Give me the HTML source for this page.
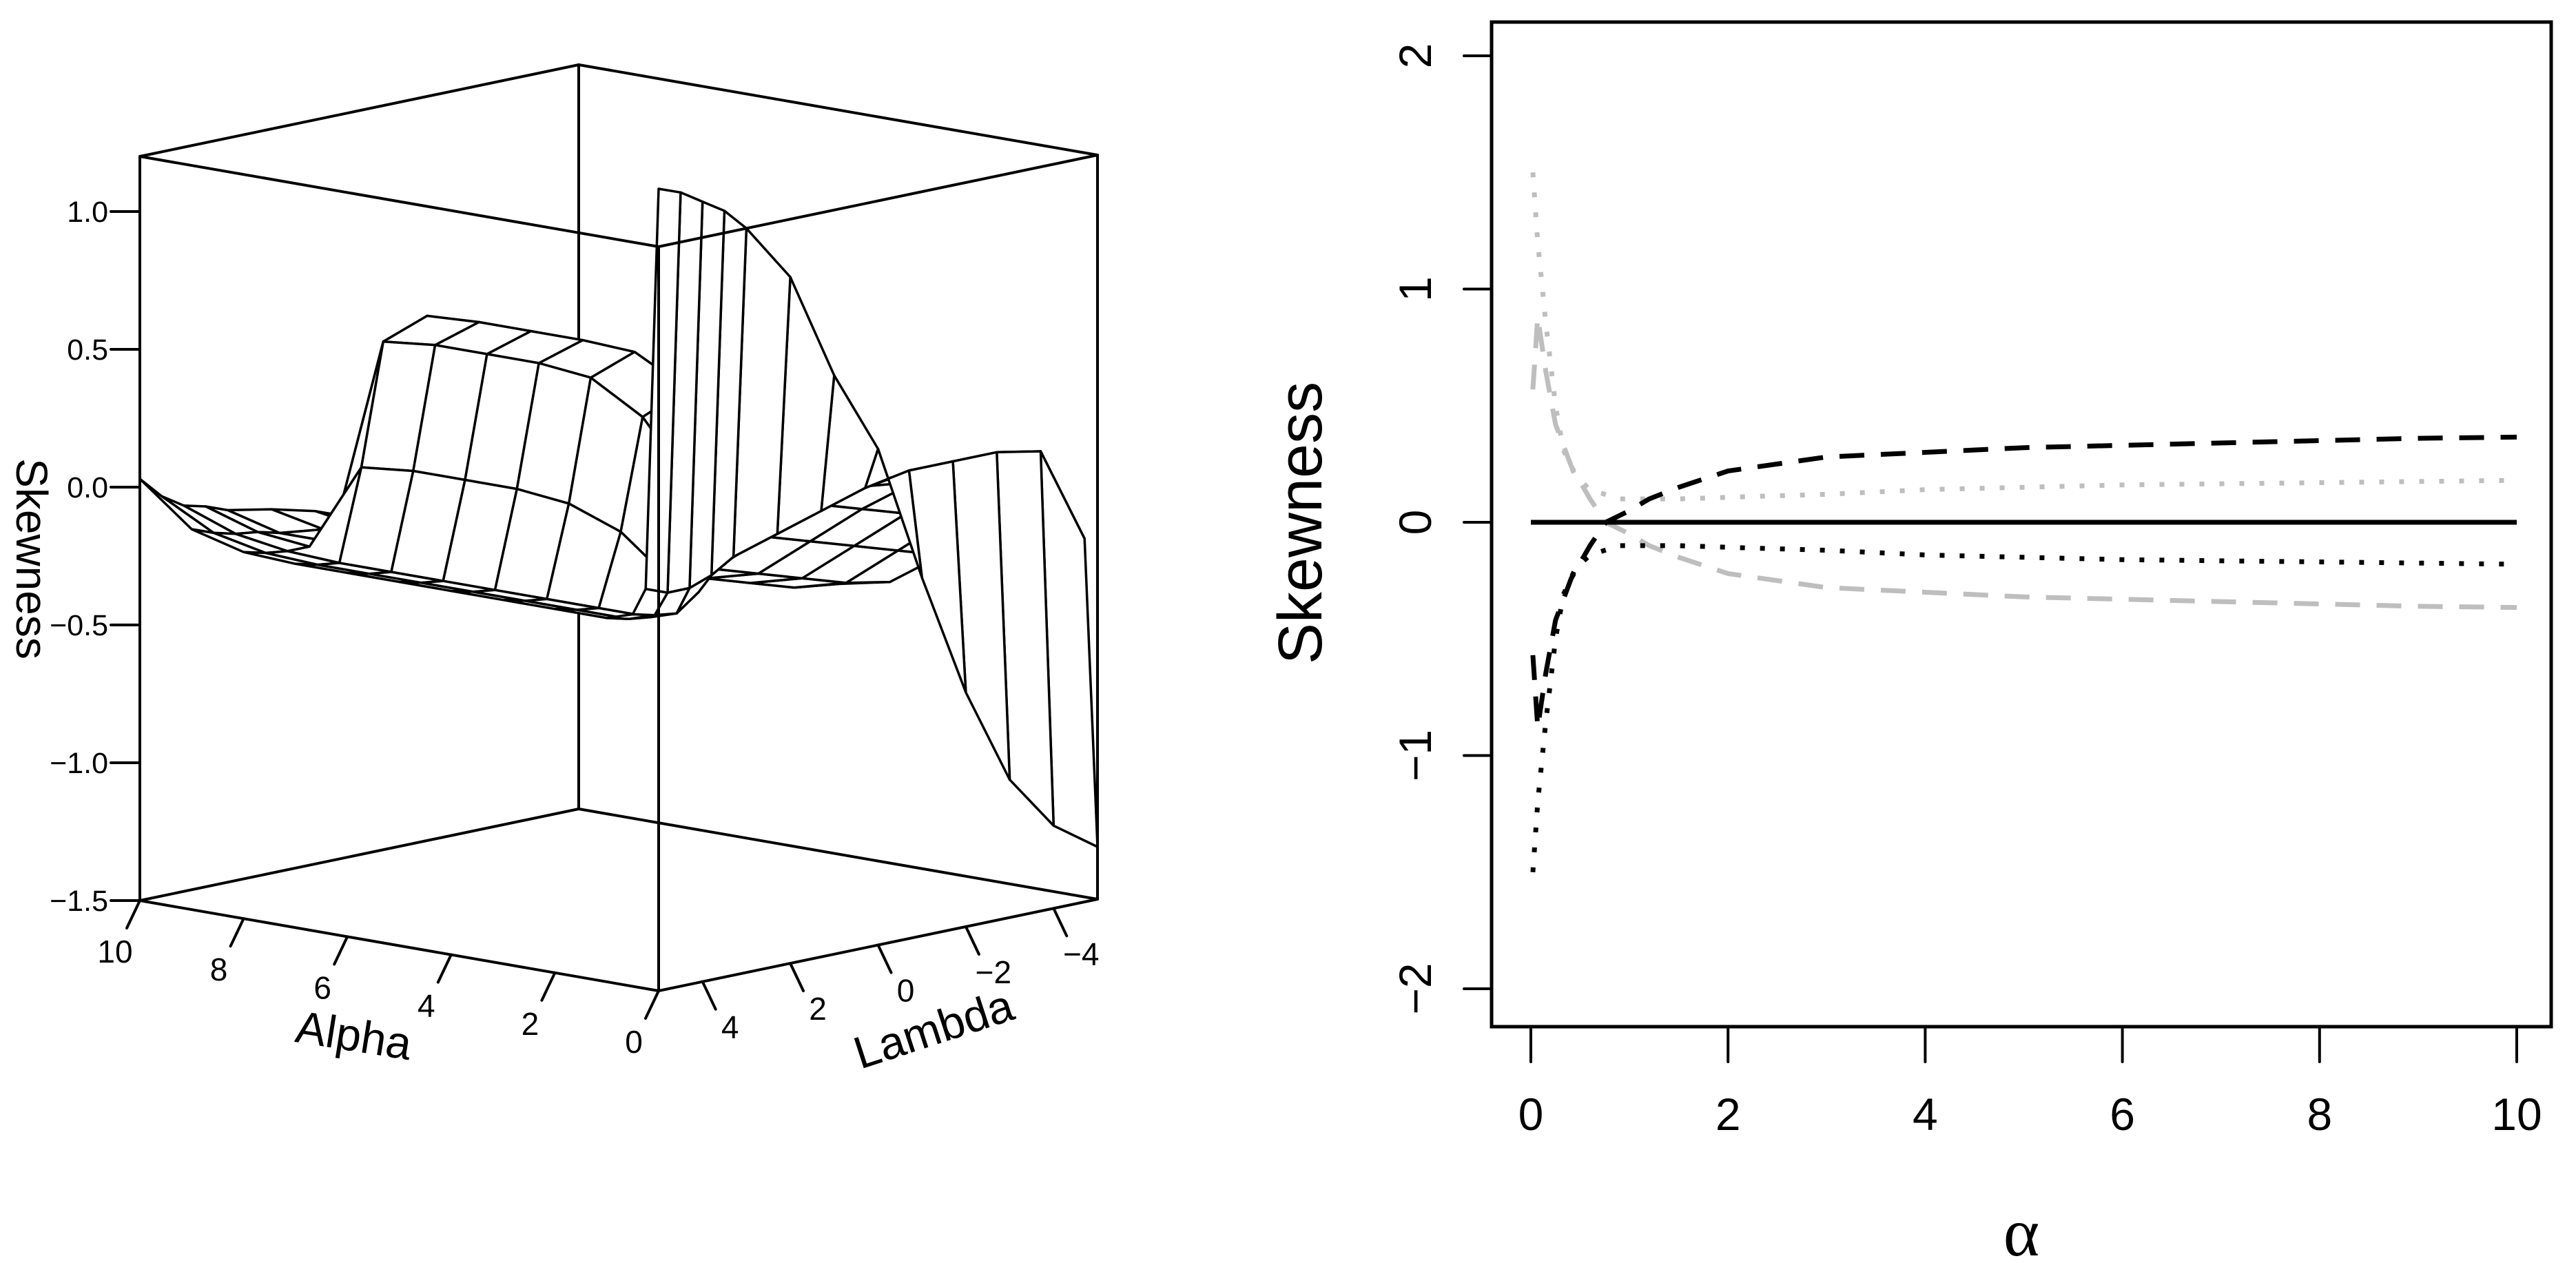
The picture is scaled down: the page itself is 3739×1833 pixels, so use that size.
<!DOCTYPE html>
<html><head><meta charset="utf-8"><style>
html,body{margin:0;padding:0;background:#fff;}
svg{display:block;font-family:"Liberation Sans",sans-serif;}
</style></head><body>
<svg id="fig" width="3739" height="1833" viewBox="0 0 3739 1833" xmlns="http://www.w3.org/2000/svg">
<rect width="3739" height="1833" fill="#fff"/>
<g id="left"></g>
<g id="right"></g>
</svg>
<script>
// ---------- 3D surface data ----------
const alphaVals = [0,0.25,0.5,1,2,3,4,5,6,7,8,9,10];
const lambdaVals = [5,4.5,4,3.5,3,2,1,0,-1,-2,-3,-4,-5];
const zRow5   = [1.41,-0.05,-0.15,-0.18,-0.18,-0.18,-0.18,-0.18,-0.18,-0.18,-0.17,-0.12,0.03];
const zRow45  = [1.38,-0.08,-0.17,-0.20,-0.20,-0.20,-0.20,-0.20,-0.20,-0.20,-0.19,-0.15,-0.05];
const zRow4   = [1.33,-0.08,-0.18,-0.21,-0.21,-0.21,-0.21,-0.21,-0.21,-0.21,-0.20,-0.17,-0.10];
const zRow35  = [1.28,-0.05,-0.12,-0.10,0.05,0.12,0.14,0.14,0.14,0.12,-0.20,-0.18,-0.12];
const zRow3   = [1.20,0.00,0.05,0.22,0.45,0.56,0.58,0.58,0.58,0.56,-0.20,-0.20,-0.15];
const zRow2   = [0.99,0.05,0.10,0.28,0.52,0.62,0.63,0.63,0.63,0.62,-0.22,-0.22,-0.18];
const zRow1   = [0.60,0.10,0.12,0.22,0.38,0.45,0.46,0.46,0.46,0.42,-0.25,-0.25,-0.22];
const zRow0   = [0.30,0.15,0.15,0.10,0.00,-0.10,-0.25,-0.30,-0.32,-0.33,-0.33,-0.30,-0.28];
const zRowM1  = [-0.20,0.18,0.15,0.10,0.00,-0.15,-0.30,-0.35,-0.37,-0.38,-0.38,-0.35,-0.32];
const zRowM2  = [-0.65,0.18,0.15,0.08,-0.05,-0.20,-0.35,-0.40,-0.42,-0.43,-0.42,-0.40,-0.36];
const zRowM3  = [-1.00,0.18,0.13,0.05,-0.10,-0.25,-0.40,-0.45,-0.46,-0.47,-0.46,-0.44,-0.40];
const zRowM4  = [-1.20,0.15,0.10,0.00,-0.15,-0.30,-0.45,-0.50,-0.50,-0.50,-0.50,-0.48,-0.44];
const zRowM5  = [-1.31,-0.20,-0.15,-0.10,-0.20,-0.35,-0.48,-0.52,-0.53,-0.53,-0.52,-0.50,-0.46];
const zGrid = [zRow5,zRow45,zRow4,zRow35,zRow3,zRow2,zRow1,zRow0,zRowM1,zRowM2,zRowM3,zRowM4,zRowM5];
const zTicks = [1.0,0.5,0.0,-0.5,-1.0,-1.5];
const zTickLabels = ["1.0","0.5","0.0","\u22120.5","\u22121.0","\u22121.5"];
const alphaTicks = [10,8,6,4,2,0];
const lambdaTicks = [4,2,0,-2,-4];
const lambdaTickLabels = ["4","2","0","\u22122","\u22124"];

// ---------- 2D line data ----------
const xTicks = [0,2,4,6,8,10];
const yTicks = [-2,-1,0,1,2];
const yTickLabels = ["\u22122","\u22121","0","1","2"];
const solidAlpha = [0,10];
const solidVals = [0,0];
const dashAlpha = [0.02,0.07,0.15,0.25,0.41,0.6,0.76,1.0,1.2,1.5,2,3,4,5,6,7,8,9,10];
const blackDashVals = [-0.57,-0.88,-0.65,-0.42,-0.24,-0.1,0,0.05,0.1,0.15,0.22,0.28,0.3,0.32,0.33,0.34,0.35,0.36,0.365];
const greyDashVals = [0.57,0.88,0.65,0.42,0.24,0.1,0,-0.05,-0.1,-0.15,-0.22,-0.28,-0.3,-0.32,-0.33,-0.34,-0.35,-0.36,-0.365];
const dotAlpha = [0.02,0.07,0.15,0.25,0.33,0.45,0.6,0.9,1.5,2.2,3,4,5,6,7,8,9,10];
const greyDotVals = [1.5,1.2,0.86,0.5,0.31,0.2,0.14,0.1,0.1,0.11,0.12,0.14,0.15,0.16,0.165,0.17,0.175,0.18];
const blackDotVals = [-1.5,-1.2,-0.86,-0.5,-0.31,-0.2,-0.14,-0.1,-0.1,-0.11,-0.12,-0.14,-0.15,-0.16,-0.165,-0.17,-0.175,-0.18];

const NS = "http://www.w3.org/2000/svg";
function mk(tag, attrs, parent){
  const e = document.createElementNS(NS, tag);
  for (const k in attrs) e.setAttribute(k, attrs[k]);
  parent.appendChild(e);
  return e;
}

// ---------- 3D projection ----------
const Z0 = -1.5, Z1 = 1.2;
function proj(a, l, z){
  return [956 - 75.3*a + 63.7*(5-l), 1438 - 13.1*a - 13.3*(5-l) - 400*(z - Z0)];
}
const L = document.getElementById('left');
function seg(p, q, name, parent){
  const e = mk('line', {x1:p[0], y1:p[1], x2:q[0], y2:q[1], stroke:'#000', 'stroke-width':4, 'stroke-linecap':'round'}, parent);
  
  
  return e;
}
seg(proj(10,5,Z0), proj(10,-5,Z0), 'box-edge-back-bottom-left', L);
seg(proj(10,-5,Z0), proj(0,-5,Z0), 'box-edge-back-bottom-right', L);
seg(proj(10,-5,Z0), proj(10,-5,Z1), 'box-edge-back-vertical', L);
seg(proj(10,5,Z1), proj(10,-5,Z1), 'box-edge-back-top-left', L);
seg(proj(10,-5,Z1), proj(0,-5,Z1), 'box-edge-back-top-right', L);

const quads = [];
for (let i = 0; i < lambdaVals.length-1; i++){
  for (let j = 0; j < alphaVals.length-1; j++){
    const depth = (alphaVals[j]+alphaVals[j+1])/20 + (10 - lambdaVals[i] - lambdaVals[i+1])/20;
    quads.push([i,j,depth]);
  }
}
quads.sort((p,q) => q[2]-p[2]);
const surf = mk('g', {}, L);


for (const [i,j] of quads){
  const pts = [proj(alphaVals[j],lambdaVals[i],zGrid[i][j]), proj(alphaVals[j+1],lambdaVals[i],zGrid[i][j+1]),
               proj(alphaVals[j+1],lambdaVals[i+1],zGrid[i+1][j+1]), proj(alphaVals[j],lambdaVals[i+1],zGrid[i+1][j])];
  const poly = mk('polygon', {points: pts.map(p => p[0].toFixed(1)+','+p[1].toFixed(1)).join(' '), fill:'#fff', stroke:'#000', 'stroke-width':3.5, 'stroke-linejoin':'round'}, surf);
  
  
}
seg(proj(10,5,Z0), proj(10,5,Z1), 'box-edge-left-vertical', L);
seg(proj(0,-5,Z0), proj(0,-5,Z1), 'box-edge-right-vertical', L);
seg(proj(0,5,Z0), proj(0,5,Z1), 'box-edge-front-vertical', L);
seg(proj(10,5,Z1), proj(0,5,Z1), 'box-edge-front-top-left', L);
seg(proj(0,5,Z1), proj(0,-5,Z1), 'box-edge-front-top-right', L);
seg(proj(10,5,Z0), proj(0,5,Z0), 'alpha-axis-line', L);
seg(proj(0,5,Z0), proj(0,-5,Z0), 'lambda-axis-line', L);

function txt(x, y, s, size, anchor, parent, name, rot, family){
  const t = mk('text', {x:x, y:y, 'font-size':size, 'text-anchor':anchor, fill:'#000'}, parent);
  if (rot) t.setAttribute('transform', 'rotate('+rot+' '+x+' '+y+')');
  if (family) t.setAttribute('font-family', family);
  t.textContent = s;
  
  
  return t;
}
zTicks.forEach((v,k) => {
  const p = proj(10,5,v);
  seg([p[0]-42,p[1]], p, 'z-tick', L);
  txt(p[0]-46, p[1]+15, zTickLabels[k], 43, 'end', L, 'z-tick-label');
});
alphaTicks.forEach(v => {
  const p = proj(v,5,Z0);
  seg(p, [p[0]-19,p[1]+40], 'alpha-tick', L);
  txt(p[0]-36, p[1]+90, String(v), 46, 'middle', L, 'alpha-tick-label');
});
lambdaTicks.forEach((v,k) => {
  const p = proj(0,v,Z0);
  seg(p, [p[0]+19,p[1]+40], 'lambda-tick', L);
  txt(p[0]+40, p[1]+82, lambdaTickLabels[k], 46, 'middle', L, 'lambda-tick-label');
});
txt(510, 1525, 'Alpha', 66, 'middle', L, 'alpha-axis-title', 9);
txt(1362, 1515, 'Lambda', 66, 'middle', L, 'lambda-axis-title', -18);
txt(24, 811, 'Skewness', 64, 'middle', L, 'z-axis-title', 90);

// ---------- 2D plot ----------
const R = document.getElementById('right');
const PX0 = 2165, PX1 = 3703, PY0 = 32, PY1 = 1490;
function xs(a){ return 2222 + 143.1*a; }
function ys(v){ return 758 - 338.5*v; }
const frame = mk('rect', {x:PX0, y:PY0, width:PX1-PX0, height:PY1-PY0, fill:'none', stroke:'#000', 'stroke-width':5}, R);


xTicks.forEach(v => {
  seg([xs(v),PY1], [xs(v),1541], 'x-tick', R);
  txt(xs(v), 1640, String(v), 66, 'middle', R, 'x-tick-label');
});
yTicks.forEach((v,k) => {
  seg([2125,ys(v)], [PX0,ys(v)], 'y-tick', R);
  txt(2077, ys(v), yTickLabels[k], 66, 'middle', R, 'y-tick-label', -90);
});
txt(2934, 1822, '\u03b1', 100, 'middle', R, 'x-axis-title', 0, '"Liberation Serif", serif');
txt(1918, 759, 'Skewness', 90, 'middle', R, 'y-axis-title', -90);

function series(xv, yv, color, dash, name){
  const d = xv.map((a,k) => (k? 'L':'M') + xs(a).toFixed(1) + ',' + ys(yv[k]).toFixed(1)).join(' ');
  const p = mk('path', {d:d, fill:'none', stroke:color, 'stroke-width':7}, R);
  if (dash) p.setAttribute('stroke-dasharray', dash);
  
  
}
series(dashAlpha, greyDashVals, '#bebebe', '36 24', 'series-grey-dashed');
series(dotAlpha, greyDotVals, '#bebebe', '7 22', 'series-grey-dotted');
series(solidAlpha, solidVals, '#000', null, 'series-black-solid');
series(dashAlpha, blackDashVals, '#000', '36 24', 'series-black-dashed');
series(dotAlpha, blackDotVals, '#000', '7 22', 'series-black-dotted');
</script>
</body></html>
